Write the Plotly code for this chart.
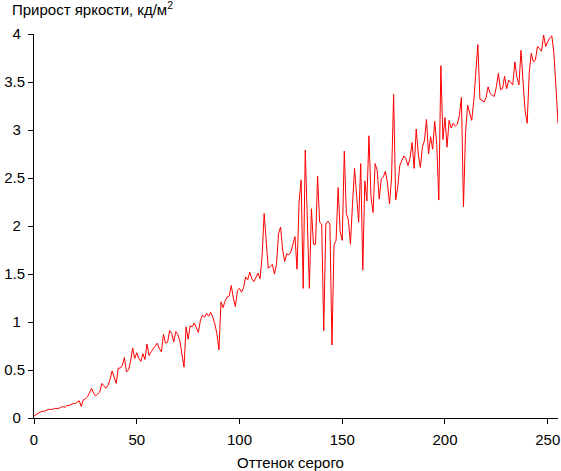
import plotly.graph_objects as go

# Gray level (0..255)
gray_levels = list(range(256))

# Brightness increment, cd/m^2
increments = [
    0.02, 0.04, 0.05, 0.06, 0.07, 0.07, 0.08, 0.09, 0.09, 0.09,   # 0-9
    0.10, 0.10, 0.10, 0.11, 0.12, 0.11, 0.13, 0.13, 0.14, 0.15,   # 10-19
    0.15, 0.17, 0.18, 0.12, 0.19, 0.20, 0.22, 0.26, 0.31, 0.26,   # 20-29
    0.23, 0.25, 0.27, 0.36, 0.33, 0.31, 0.34, 0.40, 0.49, 0.43,   # 30-39
    0.36, 0.52, 0.52, 0.55, 0.63, 0.48, 0.50, 0.59, 0.73, 0.62,   # 40-49
    0.68, 0.62, 0.59, 0.67, 0.61, 0.77, 0.65, 0.69, 0.72, 0.76,   # 50-59
    0.78, 0.72, 0.69, 0.87, 0.78, 0.79, 0.91, 0.88, 0.79, 0.90,   # 60-69
    0.87, 0.80, 0.67, 0.53, 0.95, 0.82, 0.96, 0.95, 0.99, 0.93,   # 70-79
    0.89, 1.02, 1.07, 1.05, 1.09, 1.06, 1.10, 1.05, 0.98, 0.88,   # 80-89
    0.71, 1.21, 1.15, 1.22, 1.26, 1.27, 1.38, 1.25, 1.16, 1.33,   # 90-99
    1.35, 1.31, 1.36, 1.47, 1.44, 1.52, 1.45, 1.42, 1.46, 1.51,   # 100-109
    1.45, 1.68, 2.13, 1.81, 1.56, 1.58, 1.60, 1.50, 1.60, 1.92,   # 110-119
    1.99, 1.75, 1.63, 1.71, 1.70, 1.73, 1.80, 1.89, 1.55, 2.25,   # 120-129
    2.48, 1.35, 2.79, 1.99, 1.35, 2.18, 1.81, 1.81, 2.52, 2.04,   # 130-139
    2.02, 0.91, 2.02, 2.05, 2.02, 0.76, 1.80, 1.85, 2.40, 1.94,   # 140-149
    1.85, 2.78, 2.13, 2.06, 1.81, 2.23, 2.60, 2.32, 2.04, 2.65,   # 150-159
    1.54, 2.47, 2.26, 2.94, 2.30, 2.14, 2.65, 2.58, 2.28, 2.49,   # 160-169
    2.51, 2.57, 2.45, 2.23, 2.50, 3.37, 2.27, 2.40, 2.63, 2.68,   # 170-179
    2.73, 2.70, 2.63, 2.71, 2.87, 2.60, 3.01, 2.75, 2.61, 2.82,   # 180-189
    2.89, 3.11, 2.75, 2.93, 2.80, 3.09, 2.85, 2.27, 3.67, 2.90,   # 190-199
    3.13, 2.82, 3.10, 3.02, 3.07, 3.04, 3.06, 3.15, 3.34, 2.20,   # 200-209
    2.97, 3.26, 3.17, 3.10, 3.30, 3.60, 3.89, 3.32, 3.31, 3.29,   # 210-219
    3.34, 3.45, 3.38, 3.36, 3.35, 3.45, 3.59, 3.42, 3.43, 3.56,   # 220-229
    3.43, 3.52, 3.50, 3.47, 3.71, 3.55, 3.47, 3.83, 3.50, 3.20,   # 230-239
    3.07, 3.60, 3.80, 3.71, 3.73, 3.87, 3.85, 3.82, 3.99, 3.87,   # 240-249
    3.92, 3.96, 3.98, 3.80, 3.45, 3.07,                           # 250-255
]

x_tick_values = [0, 50, 100, 150, 200, 250]
y_tick_values = [0, 0.5, 1, 1.5, 2, 2.5, 3, 3.5, 4]
y_tick_labels = ["0", "0.5", "1", "1.5", "2", "2.5", "3", "3.5", "4"]

title_text = "Прирост яркости, кд/м<sup>2</sup>"
x_title_text = "Оттенок серого"

FONT = "Liberation Sans, Arial, sans-serif"

# integer labels in the reference sit a space-width further left
y_tick_text = [t if "." in t else t + "\u00a0" for t in y_tick_labels]

fig = go.Figure()
fig.add_trace(go.Scatter(
    x=gray_levels, y=increments, mode="lines",
    line=dict(color="#ff0000", width=1),
    hoverinfo="x+y", showlegend=False,
))

fig.update_layout(
    width=561, height=471, autosize=False,
    margin=dict(l=34, r=3, t=34, b=53, pad=0),
    paper_bgcolor="white", plot_bgcolor="white",
    font=dict(family=FONT, size=15, color="black"),
    title=dict(
        text=title_text, x=12 / 561, xanchor="left", xref="container",
        y=1 - 10 / 471, yanchor="middle", yref="container",
        font=dict(family=FONT, size=15, color="black"),
    ),
    xaxis=dict(
        range=[0, 255], showgrid=False, zeroline=False,
        showline=True, linecolor="black", linewidth=1,
        ticks="outside", ticklen=5, tickwidth=1, tickcolor="black",
        tickmode="array", tickvals=x_tick_values,
        tickfont=dict(family=FONT, size=15, color="black"),
        ticklabelstandoff=3,
        automargin=False, fixedrange=True,
    ),
    yaxis=dict(
        range=[0, 4], showgrid=False, zeroline=False,
        showline=True, linecolor="black", linewidth=1,
        ticks="outside", ticklen=5, tickwidth=1, tickcolor="black",
        tickmode="array", tickvals=y_tick_values, ticktext=y_tick_text,
        tickfont=dict(family=FONT, size=15, color="black"),
        automargin=False, fixedrange=True,
    ),
    annotations=[dict(
        text=x_title_text, xref="paper", yref="paper",
        x=(290 - 34) / 524, y=-(462 - 418) / 384,
        xanchor="center", yanchor="middle", showarrow=False,
        font=dict(family=FONT, size=15, color="black"),
    )],
)

fig.write_html(
    "out.html",
    config={"displayModeBar": False},
    post_script="document.body.style.margin='0';document.body.style.overflow='hidden';",
)
